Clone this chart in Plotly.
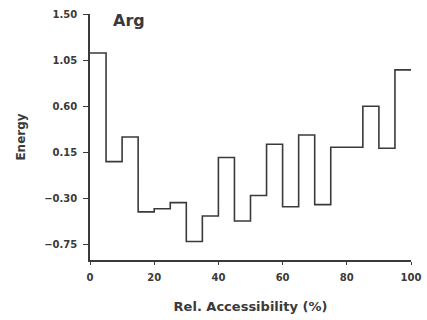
import plotly.graph_objects as go

# Relative accessibility bins (%) - left edges, 5% wide
bin_edges = [0, 5, 10, 15, 20, 25, 30, 35, 40, 45, 50, 55, 60, 65, 70, 75, 80, 85, 90, 95, 100]
energy = [1.12, 0.06, 0.30, -0.43, -0.40, -0.34, -0.72, -0.47, 0.10, -0.52,
          -0.27, 0.23, -0.38, 0.32, -0.36, 0.20, 0.20, 0.60, 0.19, 0.955]
y_ticks = [-0.75, -0.30, 0.15, 0.60, 1.05, 1.50]
x_ticks = [0, 20, 40, 60, 80, 100]
title_text = "Arg"
x_title = "Rel. Accessibility (%)"
y_title = "Energy"

ink = "#3a3a3a"
font_family = "DejaVu Sans, Arial, sans-serif"

fig = go.Figure()
fig.add_trace(go.Scatter(
    x=bin_edges,
    y=energy + [energy[-1]],
    mode="lines",
    line=dict(shape="hv", color=ink, width=1.6),
    showlegend=False,
    hoverinfo="skip",
    cliponaxis=False,
))

fig.update_layout(
    width=427, height=320,
    margin=dict(l=90, r=16, t=14, b=60, autoexpand=False),
    paper_bgcolor="white", plot_bgcolor="white",
    font=dict(family=font_family, color=ink, size=10, weight="bold"),
    xaxis=dict(
        range=[0, 100], tickvals=x_ticks, showgrid=False, zeroline=False,
        automargin=False,
        showline=True, linecolor=ink, linewidth=2,
        ticks="outside", ticklen=3, tickwidth=1, tickcolor=ink,
        ticklabelstandoff=4,
        tickfont=dict(size=10, family=font_family, weight="bold", color=ink),
        title=dict(text=x_title, standoff=20,
                   font=dict(size=13, family=font_family, weight="bold", color=ink)),
    ),
    yaxis=dict(
        range=[-0.9, 1.5], tickvals=y_ticks, tickformat=".2f",
        showgrid=False, zeroline=False,
        automargin=False,
        showline=True, linecolor=ink, linewidth=1.6,
        ticks="outside", ticklen=5, tickwidth=1.2, tickcolor=ink,
        ticklabelstandoff=4,
        tickfont=dict(size=10, family=font_family, weight="bold", color=ink),
        title=dict(text=y_title, standoff=16,
                   font=dict(size=12, family=font_family, weight="bold", color=ink)),
    ),
    annotations=[dict(
        text=title_text, x=6.5, y=0.975, xref="x", yref="paper",
        xanchor="left", yanchor="middle", showarrow=False,
        font=dict(size=16, family=font_family, weight="bold", color=ink),
    )],
)

fig.write_html("out.html")
